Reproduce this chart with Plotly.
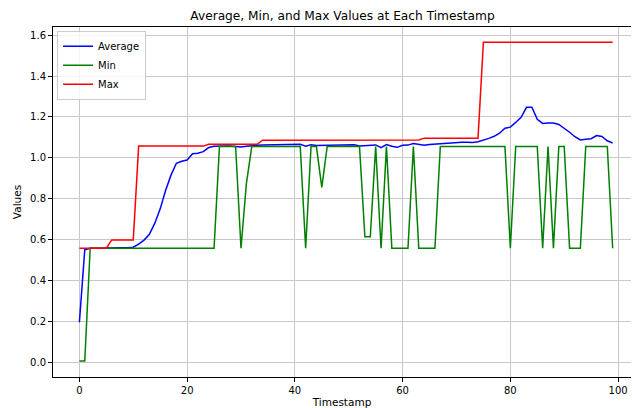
import plotly.graph_objects as go

timestamps = list(range(100))

avg_values = [
    0.195, 0.55, 0.557, 0.558, 0.558, 0.558, 0.559, 0.559, 0.56, 0.56,
    0.562, 0.577, 0.597, 0.625, 0.68, 0.75, 0.84, 0.915, 0.973, 0.983,
    0.989, 1.02, 1.022, 1.03, 1.05, 1.056, 1.058, 1.058, 1.058, 1.054,
    1.053, 1.056, 1.06, 1.061, 1.062, 1.063, 1.063, 1.064, 1.065, 1.066,
    1.067, 1.066, 1.057, 1.064, 1.06, 1.061, 1.062, 1.063, 1.063, 1.064,
    1.064, 1.064, 1.058, 1.06, 1.064, 1.063, 1.05, 1.065, 1.056, 1.051,
    1.061, 1.062, 1.07, 1.066, 1.061, 1.065, 1.067, 1.07, 1.071, 1.073,
    1.075, 1.076, 1.076, 1.075, 1.078, 1.085, 1.095, 1.105, 1.12, 1.145,
    1.15, 1.173, 1.198, 1.247, 1.247, 1.188, 1.168, 1.17, 1.17, 1.163,
    1.145, 1.125, 1.103, 1.087, 1.091, 1.093, 1.109, 1.104, 1.083, 1.072,
]

min_values = [
    0.005, 0.005, 0.557, 0.557, 0.557, 0.557, 0.557, 0.557, 0.557, 0.557,
    0.557, 0.557, 0.557, 0.557, 0.557, 0.557, 0.557, 0.557, 0.557, 0.557,
    0.557, 0.557, 0.557, 0.557, 0.557, 0.557, 1.055, 1.055, 1.055, 1.055,
    0.557, 0.873, 1.055, 1.055, 1.055, 1.055, 1.055, 1.055, 1.055, 1.055,
    1.055, 1.055, 0.557, 1.055, 1.055, 0.855, 1.055, 1.055, 1.055, 1.055,
    1.055, 1.055, 1.055, 0.613, 0.613, 1.055, 0.557, 1.055, 0.557, 0.557,
    0.557, 0.557, 1.055, 0.557, 0.557, 0.557, 0.557, 1.055, 1.055, 1.055,
    1.055, 1.055, 1.055, 1.055, 1.055, 1.055, 1.055, 1.055, 1.055, 1.055,
    0.557, 1.055, 1.055, 1.055, 1.055, 1.055, 0.557, 1.055, 0.557, 1.055,
    1.055, 0.557, 0.557, 0.557, 1.055, 1.055, 1.055, 1.055, 1.055, 0.557,
]

max_values = (
    [0.557] * 6 + [0.598] * 5 + [1.057] * 13 + [1.066] * 10
    + [1.086] * 29 + [1.087] + [1.096] * 11 + [1.565] * 25
)

x_ticks = [0, 20, 40, 60, 80, 100]
y_ticks = [0.0, 0.2, 0.4, 0.6, 0.8, 1.0, 1.2, 1.4, 1.6]

fig = go.Figure()
fig.add_trace(go.Scatter(x=timestamps, y=avg_values, mode="lines", name="Average",
                         line=dict(color="#0000ff", width=1.5)))
fig.add_trace(go.Scatter(x=timestamps, y=min_values, mode="lines", name="Min",
                         line=dict(color="#008000", width=1.5)))
fig.add_trace(go.Scatter(x=timestamps, y=max_values, mode="lines", name="Max",
                         line=dict(color="#ff0000", width=1.5)))

font_family = "DejaVu Sans"
fig.update_layout(
    width=632, height=408,
    margin=dict(l=53, r=1, t=27, b=31),
    paper_bgcolor="white", plot_bgcolor="white",
    font=dict(family=font_family, size=10, color="black"),
    title=dict(text="Average, Min, and Max Values at Each Timestamp",
               x=342.5 / 632, xanchor="center", y=1 - 16 / 408, yanchor="middle",
               yref="container", xref="container",
               font=dict(size=12.2, family=font_family, color="black")),
    showlegend=True,
    legend=dict(x=0.007, y=0.989, xanchor="left", yanchor="top",
                bgcolor="rgba(255,255,255,0.8)", bordercolor="#cccccc", borderwidth=1,
                itemwidth=30, tracegroupgap=0,
                font=dict(size=10, family=font_family)),
    xaxis=dict(range=[-4.9, 102.4], tickvals=x_ticks, ticktext=[str(v) for v in x_ticks],
               showgrid=True, gridcolor="#c8c8c8", gridwidth=1,
               showline=True, linecolor="black", linewidth=1, mirror=True,
               ticks="outside", ticklen=4, tickcolor="black", zeroline=False,
               automargin=False,
               title=dict(text="Timestamp", font=dict(size=10.5), standoff=4)),
    yaxis=dict(range=[-0.073, 1.64], tickvals=y_ticks, ticktext=[f"{v:.1f}" for v in y_ticks],
               showgrid=True, gridcolor="#c8c8c8", gridwidth=1,
               showline=True, linecolor="black", linewidth=1, mirror=False,
               ticks="outside", ticklen=4, tickcolor="black", zeroline=False,
               automargin=False,
               title=dict(text="Values", font=dict(size=10.5), standoff=6)),
)

fig.write_html("out.html", config={"displayModeBar": False},
               post_script="document.body.style.margin='0';document.body.style.overflow='hidden';")
